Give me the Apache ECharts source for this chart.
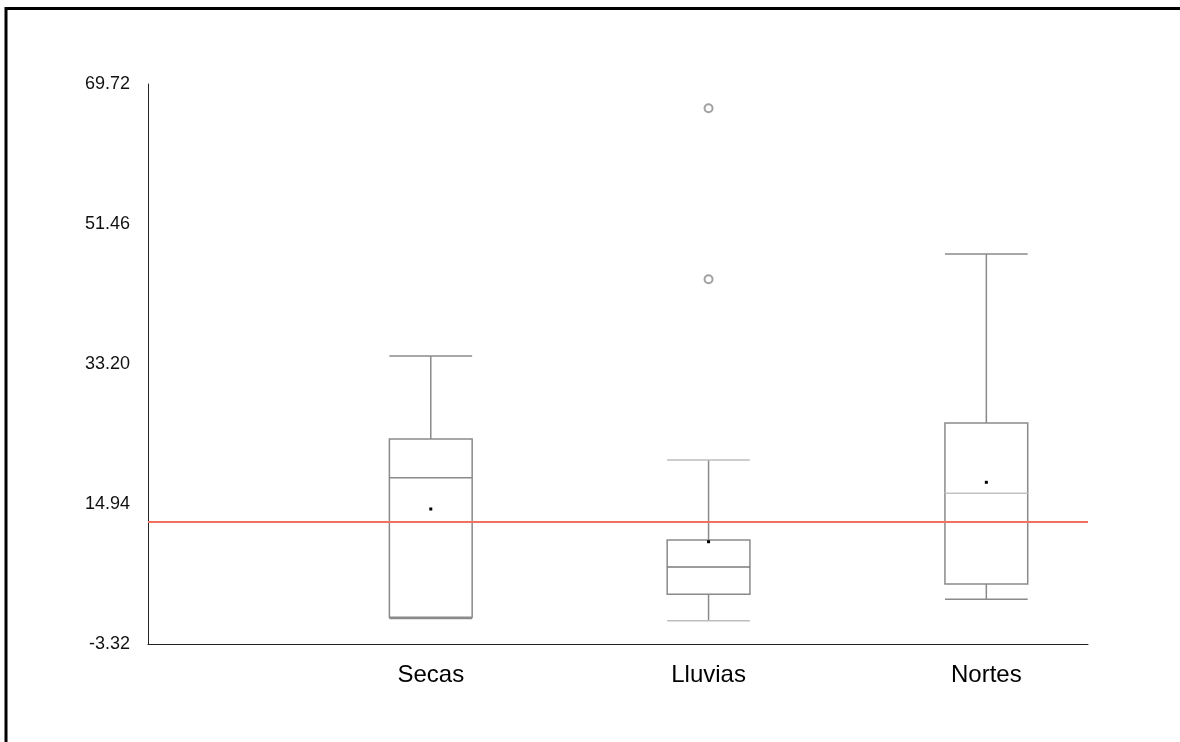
<!DOCTYPE html>
<html>
<head>
<meta charset="utf-8">
<script src="https://cdn.jsdelivr.net/npm/echarts@6/dist/echarts.min.js"></script>
<style>
  html, body { margin: 0; padding: 0; background: #fff; }
  #chart { width: 1180px; height: 742px; }
</style>
</head>
<body>
<div id="chart"></div>
<script>
// Seasonal box plots: whiskers, quartiles, medians and means per season
const categories = ['Secas', 'Lluvias', 'Nortes'];
const whiskerLow = [0.0, -0.28, 2.51];
const quartile1 = [0.16, 3.16, 4.51];
const medians = [18.37, 6.72, 16.34];
const quartile3 = [23.42, 10.24, 25.50];
const whiskerHigh = [34.24, 20.68, 47.55];
const means = [14.29, 10.02, 17.77];

// Points beyond the whiskers
const outlierCategories = ['Lluvias', 'Lluvias'];
const outlierValues = [66.55, 44.25];

// Overall reference level (red line)
const referenceLevel = 12.63;

// Y axis tick labels
const yTicks = [-3.32, 14.94, 33.20, 51.46, 69.72];

// Build datasets from the arrays above
const boxData = categories.map((c, i) => [
  i + 1, whiskerLow[i], quartile1[i], medians[i], quartile3[i], whiskerHigh[i], means[i]
]);
const outlierData = outlierValues.map((v, i) => [categories.indexOf(outlierCategories[i]) + 1, v]);

const BOX_COLOR = '#8a8a8a';
const MEDIAN_COLORS = ['#8a8a8a', '#7a7a7a', '#c4c4c4'];
const CAP_COLORS = ['#8a8a8a', '#bdbdbd', '#8a8a8a'];
const BOX_WIDTH = 0.298; // in x-axis units

const chart = echarts.init(document.getElementById('chart'), null, { renderer: 'canvas' });

function renderBox(params, api) {
  const x = api.value(0);
  const i = params.dataIndex;
  const pLow = api.coord([x, api.value(1)]);
  const pQ1 = api.coord([x, api.value(2)]);
  const pMed = api.coord([x, api.value(3)]);
  const pQ3 = api.coord([x, api.value(4)]);
  const pHigh = api.coord([x, api.value(5)]);
  const pMean = api.coord([x, api.value(6)]);
  const left = api.coord([x - BOX_WIDTH / 2, 0])[0];
  const right = api.coord([x + BOX_WIDTH / 2, 0])[0];
  const cx = pMed[0];
  const lineStyle = { stroke: BOX_COLOR, lineWidth: 1.5, fill: null };
  const capStyle = { stroke: CAP_COLORS[i], lineWidth: 1.5, fill: null };
  return {
    type: 'group',
    children: [
      { type: 'line', shape: { x1: cx, y1: pQ3[1], x2: cx, y2: pHigh[1] }, style: lineStyle },
      { type: 'line', shape: { x1: cx, y1: pQ1[1], x2: cx, y2: pLow[1] }, style: lineStyle },
      { type: 'line', shape: { x1: left, y1: pHigh[1], x2: right, y2: pHigh[1] }, style: capStyle },
      { type: 'line', shape: { x1: left, y1: pLow[1], x2: right, y2: pLow[1] }, style: capStyle },
      { type: 'rect', shape: { x: left, y: pQ3[1], width: right - left, height: pQ1[1] - pQ3[1] },
        style: { stroke: BOX_COLOR, lineWidth: 1.5, fill: null } },
      { type: 'line', shape: { x1: left, y1: pMed[1], x2: right, y2: pMed[1] },
        style: { stroke: MEDIAN_COLORS[i], lineWidth: 1.5 } },
      { type: 'rect', shape: { x: pMean[0] - 1.5, y: pMean[1] - 1.5, width: 3, height: 3 },
        style: { fill: '#000' } }
    ]
  };
}

const option = {
  backgroundColor: '#ffffff',
  animation: false,
  graphic: [
    { type: 'rect', shape: { x: 6, y: 8.5, width: 1400, height: 1000 },
      style: { fill: null, stroke: '#000', lineWidth: 3 }, silent: true }
  ],
  grid: { left: 148, right: 92, top: 84, bottom: 98, containLabel: false },
  xAxis: {
    type: 'value',
    min: -0.018,
    max: 3.366,
    splitLine: { show: false },
    axisTick: { show: false },
    axisLine: { show: true, onZero: false, lineStyle: { color: '#222', width: 1 } },
    axisLabel: {
      customValues: [1, 2, 3],
      formatter: v => categories[Math.round(v) - 1] || '',
      fontFamily: 'Liberation Sans, Arial, sans-serif',
      fontSize: 24,
      color: '#000',
      margin: 19
    }
  },
  yAxis: {
    type: 'value',
    min: yTicks[0],
    max: yTicks[yTicks.length - 1],
    splitLine: { show: false },
    axisTick: { show: false },
    axisLine: { show: true, onZero: false, lineStyle: { color: '#222', width: 1 } },
    axisLabel: {
      customValues: yTicks,
      formatter: v => v.toFixed(2),
      fontFamily: 'Liberation Sans, Arial, sans-serif',
      fontSize: 18,
      color: '#111',
      margin: 18
    }
  },
  series: [
    {
      type: 'custom',
      renderItem: renderBox,
      encode: { x: 0, y: [1, 2, 3, 4, 5, 6] },
      data: boxData,
      z: 3,
      markLine: {
        silent: true,
        symbol: 'none',
        label: { show: false },
        lineStyle: { color: '#f2705e', width: 2, type: 'solid' },
        data: [{ yAxis: referenceLevel }]
      }
    },
    {
      type: 'scatter',
      data: outlierData,
      symbol: 'emptyCircle',
      symbolSize: 8,
      itemStyle: { color: '#8a8a8a', borderColor: '#8a8a8a', borderWidth: 1.2 },
      z: 4
    }
  ]
};

chart.setOption(option);
</script>
</body>
</html>
